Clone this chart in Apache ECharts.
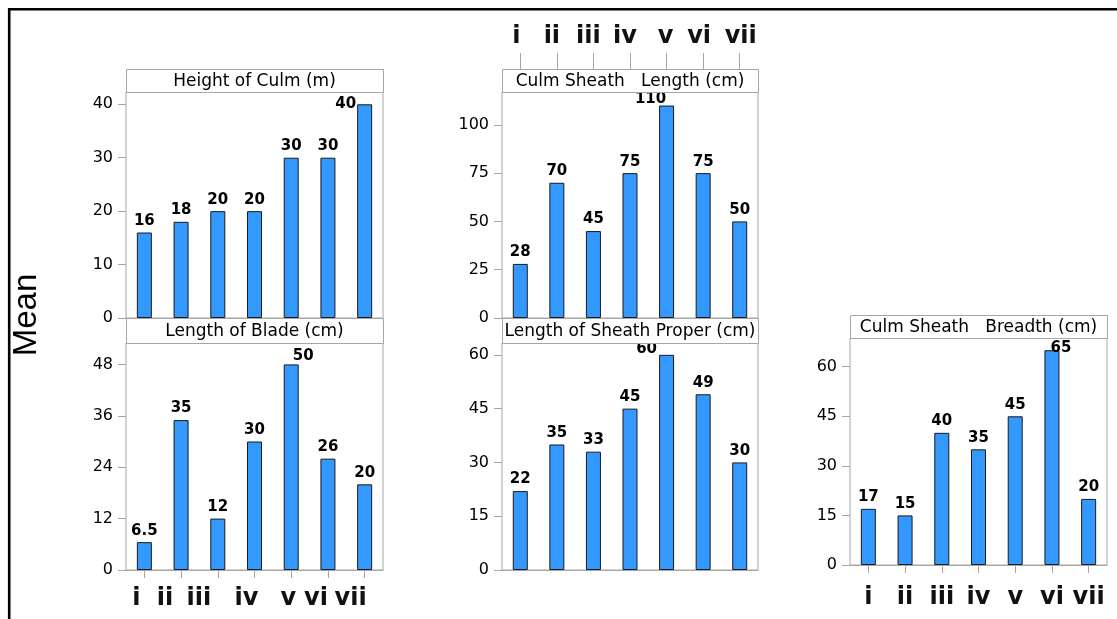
<!DOCTYPE html>
<html><head><meta charset="utf-8">
<script src="https://cdn.jsdelivr.net/npm/echarts@6/dist/echarts.min.js"></script>
<style>html,body{margin:0;padding:0;background:#fff}#c{width:1117px;height:619px}</style>
</head><body><div id="c"></div>
<script>
// ---- data ----
const categories = ['i','ii','iii','iv','v','vi','vii'];
const panelTitles = ['Height of Culm (m)','Length of Blade (cm)','Culm Sheath   Length (cm)','Length of Sheath Proper (cm)','Culm Sheath   Breadth (cm)'];
const heightOfCulm = [16,18,20,20,30,30,40];
const lengthOfBlade = [6.5,35,12,30,48,26,20];
const lengthOfBladeLabels = ['6.5','35','12','30','50','26','20'];
const culmSheathLength = [28,70,45,75,110,75,50];
const lengthOfSheathProper = [22,35,33,45,60,49,30];
const culmSheathBreadth = [17,15,40,35,45,65,20];
const yMax = [42.3, 53, 117, 63.3, 68.7];
const yInterval = [10, 12, 25, 15, 15];
const yAxisTitle = 'Mean';

// ---- layout / style ----
const panels = [
  {left:126, top:92, width:257, height:226, header:[126,69,257,23], xlab:false, margin:14},
  {left:126, top:343, width:257, height:227, header:[126,318,257,25], xlab:true, margin:17},
  {left:502, top:92, width:256, height:226, header:[502,69,256,23], xlab:false, margin:14},
  {left:502, top:343, width:256, height:227, header:[502,318,256,25], xlab:false, margin:14},
  {left:850, top:338, width:257, height:227, header:[850,315,257,23], xlab:true, margin:21}
];
const seriesValues = [heightOfCulm, lengthOfBlade, culmSheathLength, lengthOfSheathProper, culmSheathBreadth];
const seriesLabels = [null, lengthOfBladeLabels, null, null, null];
const labelOffsets = [{6:[-19,11]}, {4:[12,3]}, {4:[-16,5]}, {4:[-20,6]}, {5:[9,9]}];
const bottomLabelShift = [[-8,-16,-19,-8,-3,-12,-14], [0,0,0,0,0,0,0]];
const topLabelShift = [-4,-5,-5,-5,-1,-4,1];
const grey = '#a6a6a6';

function catData(shift){
  return categories.map((c,i)=>{
    const s = shift ? shift[i] : 0;
    return {value:c, textStyle:{padding: s<0 ? [0,-2*s,0,0] : [0,0,0,2*s]}};
  });
}

const grids = [], xAxes = [], yAxes = [], series = [], graphics = [];
panels.forEach((p,k)=>{
  grids.push({left:p.left, top:p.top, width:p.width, height:p.height, show:true, borderColor:grey, borderWidth:1, containLabel:false});
  xAxes.push({
    type:'category', gridIndex:k, data:catData(k===1?bottomLabelShift[0]:bottomLabelShift[1]),
    boundaryGap:true,
    axisLine:{show:true, lineStyle:{color:grey}},
    axisTick:{show:p.xlab, alignWithLabel:true, interval:0, length:8, lineStyle:{color:grey}},
    axisLabel:{show:p.xlab, interval:0, hideOverlap:false, fontFamily:'DejaVu Sans', fontWeight:'bold', fontSize:24, color:'#111', margin:p.margin},
    splitLine:{show:false}
  });
  yAxes.push({
    type:'value', gridIndex:k, min:0, max:yMax[k], interval:yInterval[k],
    axisLine:{show:false},
    axisTick:{show:true, length:8, lineStyle:{color:grey}},
    axisLabel:{fontFamily:'DejaVu Sans', fontSize:16, color:'#000', margin:13,
      showMaxLabel:false},
    splitLine:{show:false}
  });
  const vals = seriesValues[k];
  series.push({
    type:'bar', xAxisIndex:k, yAxisIndex:k, barWidth:15,
    itemStyle:{color:'#3399ff', borderColor:'#1a1a1a', borderWidth:1},
    label:{show:true, position:'top', distance:4, fontFamily:'DejaVu Sans', fontWeight:'bold', fontSize:15, color:'#000',
      formatter: (prm)=> seriesLabels[k] ? seriesLabels[k][prm.dataIndex] : String(vals[prm.dataIndex])},
    data: vals.map((v,i)=> labelOffsets[k][i] ? {value:v, label:{offset:labelOffsets[k][i]}} : v),
    z:3
  });
  const h = p.header;
  graphics.push({type:'rect', shape:{x:h[0]+0.5, y:h[1]+0.5, width:h[2], height:h[3]}, style:{fill:'#fff', stroke:grey, lineWidth:1}, z:10});
  graphics.push({type:'text', x:h[0]+h[2]/2, y:h[1]+h[3]/2+1, style:{text:panelTitles[k], fontFamily:'DejaVu Sans', fontSize:17, fill:'#000', align:'center', verticalAlign:'middle'}, z:11});
});
// top category axis above middle-top panel
xAxes.push({
  type:'category', gridIndex:2, position:'top', offset:23, data:catData(topLabelShift), boundaryGap:true,
  axisLine:{show:false},
  axisTick:{show:true, alignWithLabel:true, interval:0, length:16, lineStyle:{color:grey}},
  axisLabel:{show:true, interval:0, hideOverlap:false, fontFamily:'DejaVu Sans', fontWeight:'bold', fontSize:24, color:'#111', margin:20}
});
graphics.push({type:'polyline', shape:{points:[[9.2,700],[9.2,9.2],[1200,9.2]]}, style:{stroke:'#000', lineWidth:2.6, fill:null}, z:20});
graphics.push({type:'text', x:27, y:315, rotation:Math.PI/2, style:{text:yAxisTitle, fontFamily:'Liberation Sans', fontSize:33, fill:'#000', align:'center', verticalAlign:'middle'}, z:20});

const chart = echarts.init(document.getElementById('c'), null, {renderer:'canvas'});
chart.setOption({
  animation:false,
  backgroundColor:'#fff',
  grid:grids, xAxis:xAxes, yAxis:yAxes, series:series, graphic:graphics
});
</script></body></html>
